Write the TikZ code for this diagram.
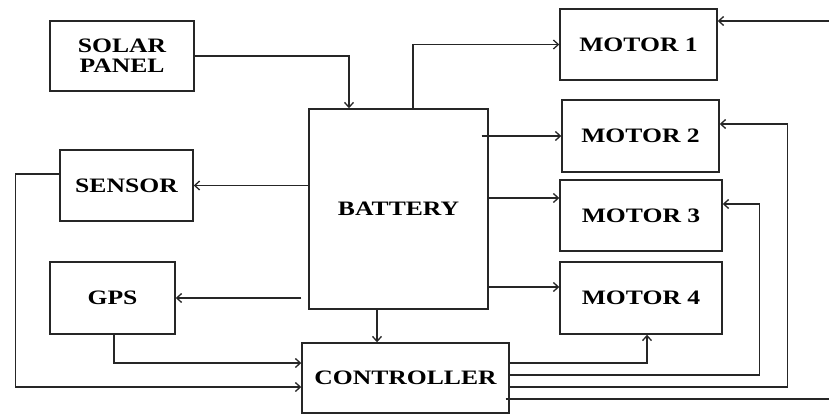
\documentclass[tikz,border=0pt]{standalone}
\usepackage{fontspec}
\newfontfamily\blkfont[FakeStretch=1.25]{Liberation Serif}
\usetikzlibrary{arrows.meta, positioning, calc}

\begin{document}
\begin{tikzpicture}[
  x=1pt, y=-1pt,
  every node/.style={font=\blkfont\bfseries\fontsize{20.5}{20}\selectfont},
  blk/.style={draw=black!85, line width=1.4pt, fill=white, inner sep=0pt, align=center},
  arrow/.style={-{Straight Barb[length=5pt, width=9pt]}, line width=1.3pt, draw=black!85},
  wire/.style={line width=1.3pt, draw=black!85}
]

  \useasboundingbox (0,0) rectangle (829,414);

  \node[blk, minimum width=144pt, minimum height=70pt] (solar) at (122,56) {SOLAR\\PANEL};
  \node[blk, minimum width=133pt, minimum height=71pt] (sensor) at (126.5,185.5) {SENSOR};
  \node[blk, minimum width=125pt, minimum height=72pt] (gps) at (112.5,298) {GPS};
  \node[blk, minimum width=179pt, minimum height=200pt] (battery) at (398.5,209) {BATTERY};
  \node[blk, minimum width=207pt, minimum height=70pt] (ctrl) at (405.5,378) {CONTROLLER};

  \node[blk, minimum width=157pt, minimum height=71pt] (motor1) at (638.5,44.5) {MOTOR 1};
  \node[blk, minimum width=157pt, minimum height=72pt] (motor2) at (640.5,136) {MOTOR 2};
  \node[blk, minimum width=162pt, minimum height=71pt] (motor3) at (641,215.5) {MOTOR 3};
  \node[blk, minimum width=162pt, minimum height=72pt] (motor4) at (641,298) {MOTOR 4};

  \coordinate (outR) at (829,399);
  \coordinate (inR) at (829,21);
  \coordinate (m3in) at ([yshift=17.5pt]motor3.west);
  \coordinate (m4in) at ([yshift=11pt]motor4.west);

  \draw[arrow] (solar.east) -| ([xshift=-49.5pt]battery.north);
  \draw[arrow] ([xshift=14.5pt]battery.north) |- (motor1.west);
  \draw[arrow] ([xshift=-7pt]battery.east |- motor2.west) -- (motor2.west);
  \draw[arrow] (battery.east |- m3in) -- (m3in);
  \draw[arrow] (battery.east |- m4in) -- (m4in);
  \draw[arrow] (battery.west |- sensor.east) -- (sensor.east);
  \draw[arrow] ([xshift=-7pt]battery.west |- gps.east) -- (gps.east);
  \draw[arrow] ([xshift=-21.5pt]battery.south) -- ([xshift=-21.5pt]battery.south |- ctrl.north);

  \draw[arrow] ([xshift=1.5pt]gps.south) |- ([yshift=15pt]ctrl.west);
  \draw[arrow] ([yshift=11.5pt]sensor.west) -- ++(-44,0) |- ([yshift=-9pt]ctrl.west);

  \draw[arrow] ([yshift=15pt]ctrl.east) -| ([xshift=6pt]motor4.south);
  \draw[arrow] ([yshift=3pt]ctrl.east) -- ++(250,0) |- ([yshift=11.5pt]motor3.east);
  \draw[arrow] ([yshift=-9pt]ctrl.east) -- ++(278,0) |- ([yshift=12pt]motor2.east);
  \draw[wire] ([xshift=-4pt, yshift=-21pt]ctrl.east) -- (outR);
  \draw[arrow] (inR) -- (motor1.east |- inR);

\end{tikzpicture}
\end{document}
